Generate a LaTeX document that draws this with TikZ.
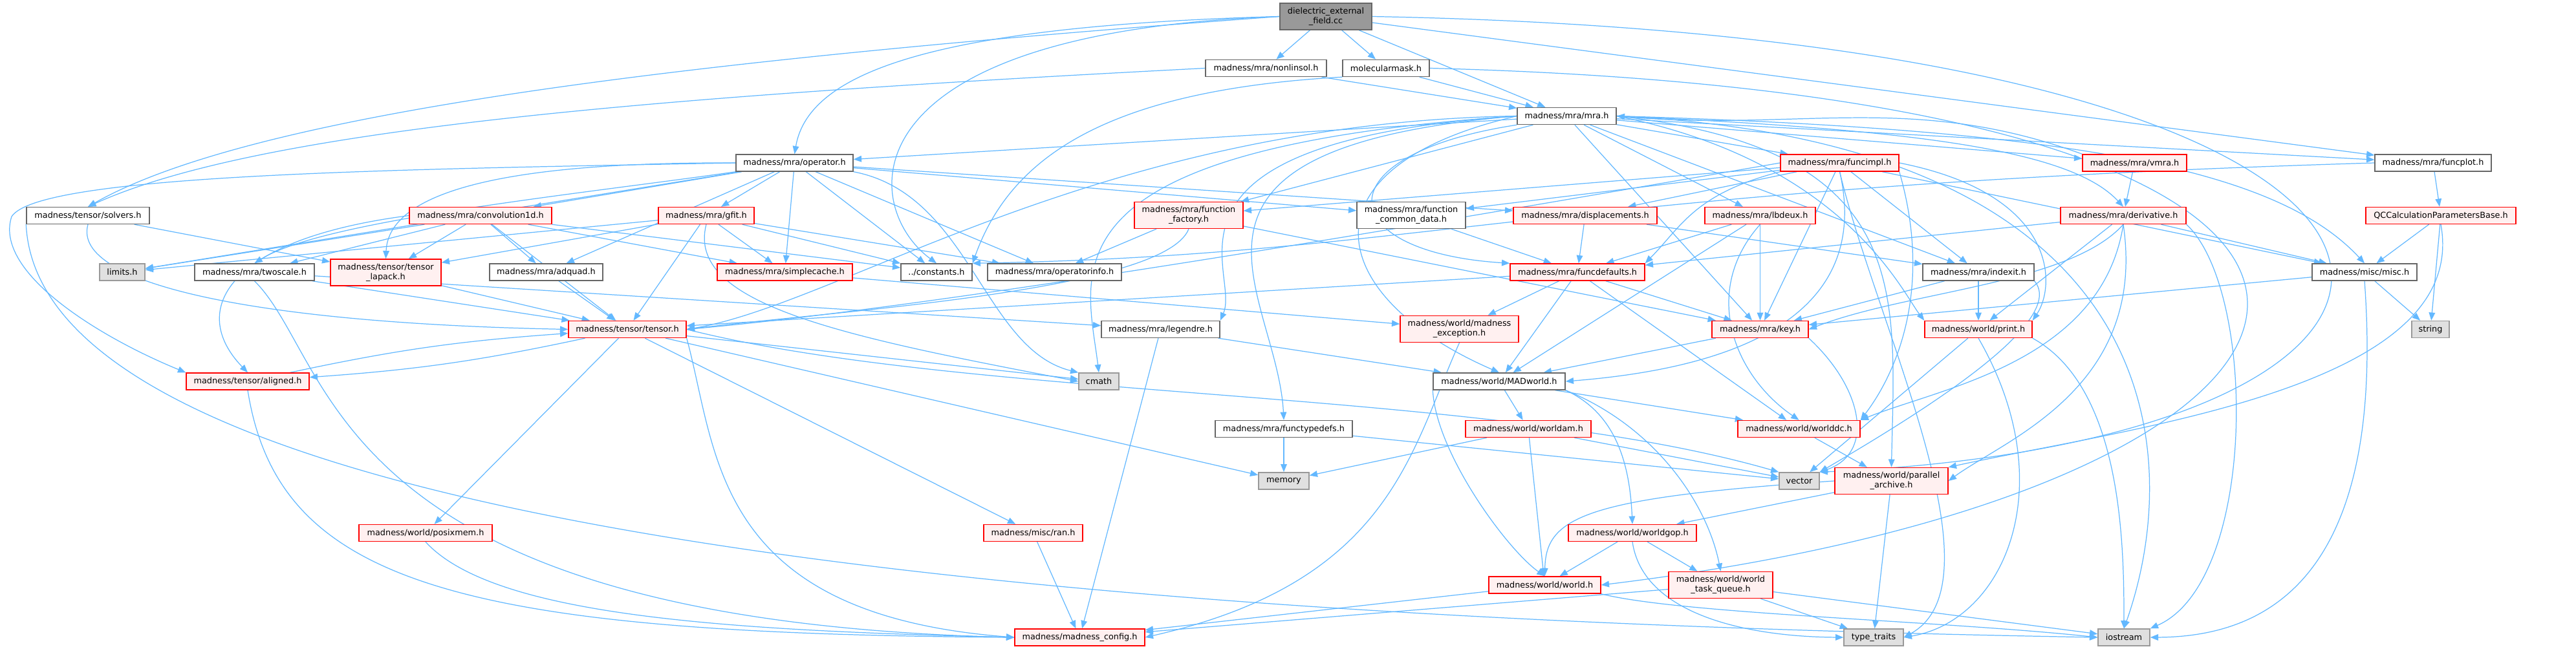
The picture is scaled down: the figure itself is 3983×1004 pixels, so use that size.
\documentclass[tikz,border=0pt]{standalone}
\usepackage{fontspec}
\usepackage{tikz}
\usetikzlibrary{arrows.meta,backgrounds}
\newfontfamily\dotfont{DejaVu Sans}
\definecolor{edgeblue}{HTML}{63B8FF}
\definecolor{redfill}{HTML}{FFF0F0}
\definecolor{sysfill}{HTML}{E0E0E0}
\definecolor{sysline}{HTML}{999999}
\definecolor{rootfill}{HTML}{999999}
\definecolor{boxline}{HTML}{666666}
\tikzset{
  file/.style={draw=boxline, fill=white, line width=0.8pt, inner sep=0pt,
    minimum height=26*0.02cm, align=center,
    font={\dotfont\fontsize{7.3}{8.6}\selectfont}},
  redfile/.style={file, draw=red, fill=redfill},
  sysfile/.style={file, draw=sysline, fill=sysfill},
  rootfile/.style={file, draw=boxline, fill=rootfill},
  twoline/.style={minimum height=41*0.02cm},
  dep/.style={draw=edgeblue, line width=0.7pt, -{Triangle[length=7pt,width=5.5pt]}}
}

\begin{document}
\begin{tikzpicture}[x=0.02cm, y=0.02cm]
    \useasboundingbox (0,0) rectangle (3983,-1004);

    % Files, row by row
    \node[rootfile, twoline, minimum width=142*0.02cm] (diel) at (2050,-25.5) {dielectric\_external\\\_field.cc};

    \node[file, minimum width=187*0.02cm] (nonlinsol) at (1957.5,-105.5) {madness/mra/nonlinsol.h};
    \node[file, minimum width=134*0.02cm] (molmask) at (2143,-105.5) {molecularmask.h};

    \node[file, minimum width=153*0.02cm] (mra) at (2422.5,-179.5) {madness/mra/mra.h};

    \node[file, minimum width=181*0.02cm] (operator) at (1228.5,-252) {madness/mra/operator.h};
    \node[redfile, minimum width=183*0.02cm] (funcimpl) at (2844.5,-252) {madness/mra/funcimpl.h};
    \node[redfile, minimum width=161*0.02cm] (vmra) at (3300.5,-252) {madness/mra/vmra.h};
    \node[file, minimum width=180*0.02cm] (funcplot) at (3762,-252) {madness/mra/funcplot.h};

    \node[file, minimum width=190*0.02cm] (solvers) at (136,-333.5) {madness/tensor/solvers.h};
    \node[redfile, minimum width=220*0.02cm] (conv) at (743,-333.5) {madness/mra/convolution1d.h};
    \node[redfile, minimum width=148*0.02cm] (gfit) at (1092,-333.5) {madness/mra/gfit.h};
    \node[redfile, twoline, minimum width=168*0.02cm] (funcfactory) at (1838,-333) {madness/mra/function\\\_factory.h};
    \node[file, twoline, minimum width=168*0.02cm] (fcd) at (2182,-333) {madness/mra/function\\\_common\_data.h};
    \node[redfile, minimum width=222*0.02cm] (displacements) at (2451,-333.5) {madness/mra/displacements.h};
    \node[redfile, minimum width=171*0.02cm] (lbdeux) at (2721.5,-333.5) {madness/mra/lbdeux.h};
    \node[redfile, minimum width=194*0.02cm] (derivative) at (3283,-333.5) {madness/mra/derivative.h};
    \node[redfile, minimum width=232*0.02cm] (qccalc) at (3774,-333.5) {QCCalculationParametersBase.h};

    \node[sysfile, minimum width=70*0.02cm] (limits) at (189,-421) {limits.h};
    \node[file, minimum width=185*0.02cm] (twoscale) at (393.5,-421) {madness/mra/twoscale.h};
    \node[redfile, twoline, minimum width=171*0.02cm] (tensorlapack) at (596.5,-421.5) {madness/tensor/tensor\\\_lapack.h};
    \node[file, minimum width=175*0.02cm] (adquad) at (844.5,-421) {madness/mra/adquad.h};
    \node[redfile, minimum width=209*0.02cm] (simplecache) at (1213.5,-421) {madness/mra/simplecache.h};
    \node[file, minimum width=110*0.02cm] (constants) at (1448,-421) {../constants.h};
    \node[file, minimum width=207*0.02cm] (opinfo) at (1630.5,-421) {madness/mra/operatorinfo.h};
    \node[redfile, minimum width=208*0.02cm] (funcdefaults) at (2439,-421) {madness/mra/funcdefaults.h};
    \node[file, minimum width=172*0.02cm] (indexit) at (3059,-421) {madness/mra/indexit.h};
    \node[file, minimum width=162*0.02cm] (misc) at (3656,-421) {madness/misc/misc.h};

    \node[redfile, minimum width=182*0.02cm] (tensor) at (970,-509.5) {madness/tensor/tensor.h};
    \node[file, minimum width=183*0.02cm] (legendre) at (1794.5,-509.5) {madness/mra/legendre.h};
    \node[redfile, twoline, minimum width=183*0.02cm] (mexception) at (2256.5,-509) {madness/world/madness\\\_exception.h};
    \node[redfile, minimum width=149*0.02cm] (key) at (2721.5,-509.5) {madness/mra/key.h};
    \node[redfile, minimum width=166*0.02cm] (print) at (3059,-509.5) {madness/world/print.h};
    \node[sysfile, minimum width=58*0.02cm] (string) at (3758,-509.5) {string};

    \node[redfile, minimum width=190*0.02cm] (aligned) at (383,-590) {madness/tensor/aligned.h};
    \node[sysfile, minimum width=62*0.02cm] (cmath) at (1699,-590) {cmath};
    \node[file, minimum width=204*0.02cm] (madworld) at (2318,-590) {madness/world/MADworld.h};

    \node[file, minimum width=212*0.02cm] (functypedefs) at (1985,-663.5) {madness/mra/functypedefs.h};
    \node[redfile, minimum width=194*0.02cm] (worldam) at (2363,-663.5) {madness/world/worldam.h};
    \node[redfile, minimum width=189*0.02cm] (worlddc) at (2781.5,-663.5) {madness/world/worlddc.h};

    \node[sysfile, minimum width=78*0.02cm] (memory) at (1985,-744) {memory};
    \node[sysfile, minimum width=62*0.02cm] (vector) at (2782,-744) {vector};
    \node[redfile, twoline, minimum width=175*0.02cm] (parchive) at (2924.5,-744) {madness/world/parallel\\\_archive.h};

    \node[redfile, minimum width=206*0.02cm] (posixmem) at (658,-824.5) {madness/world/posixmem.h};
    \node[redfile, minimum width=153*0.02cm] (ran) at (1597.5,-824.5) {madness/misc/ran.h};
    \node[redfile, minimum width=198*0.02cm] (worldgop) at (2524,-824.5) {madness/world/worldgop.h};

    \node[redfile, minimum width=173*0.02cm] (world) at (2388.5,-905) {madness/world/world.h};
    \node[redfile, twoline, minimum width=161*0.02cm] (taskqueue) at (2660.5,-905) {madness/world/world\\\_task\_queue.h};

    \node[redfile, minimum width=201*0.02cm] (config) at (1669.5,-986) {madness/madness\_config.h};
    \node[sysfile, minimum width=92*0.02cm] (typetraits) at (2897,-986) {type\_traits};
    \node[sysfile, minimum width=80*0.02cm] (iostream) at (3284,-986) {iostream};

    \begin{scope}[on background layer]
    % Includes of the example file
    \draw[dep] (diel) -- (nonlinsol);
    \draw[dep] (diel) -- (molmask);
    \draw[dep] (diel) -- (mra);
    \draw[dep] (diel.west) .. controls (1450,-40) and (1250,-110) .. (operator.north);
    \draw[dep] (diel.west) .. controls (1100,-90) and (400,-170) .. (solvers.north);
    \draw[dep] (diel.west) .. controls (1300,-50) and (1330,-320) .. (constants.north);
    \draw[dep] (diel) -- (funcplot);
    \draw[dep] (diel.east) .. controls (3975,-60) and (3950,-680) .. (vector.north east);

    \draw[dep] (nonlinsol) -- (mra);
    \draw[dep] (nonlinsol.west) .. controls (1000,-150) and (400,-200) .. (solvers.north);
    \draw[dep] (molmask) -- (mra);
    \draw[dep] (molmask.south west) .. controls (1700,-140) and (1560,-250) .. (constants.north east);
    \draw[dep] (molmask.east) .. controls (3950,-150) and (3750,-750) .. (world.east);

    % mra.h
    \draw[dep] (mra) -- (operator);
    \draw[dep] (mra) -- (funcimpl);
    \draw[dep] (mra) -- (vmra);
    \draw[dep] (mra) -- (funcplot);
    \draw[dep] (mra) -- (funcfactory);
    \draw[dep] (mra) -- (lbdeux);
    \draw[dep] (mra) -- (indexit);
    \draw[dep] (mra) -- (key);
    \draw[dep] (mra.east) .. controls (2950,-200) and (3200,-230) .. (derivative.north);
    \draw[dep] (mra.east) .. controls (3200,-200) and (3520,-260) .. (misc.north);
    \draw[dep] (mra.east) .. controls (2850,-250) and (2940,-450) .. (print.north west);
    \draw[dep] (mra.east) .. controls (2960,-230) and (2930,-450) .. (parchive.north);
    \draw[dep] (mra.east) .. controls (3350,-220) and (3380,-700) .. (iostream.north);
    \draw[dep] (mra.south west) .. controls (2040,-240) and (2060,-390) .. (funcdefaults.north west);
    \draw[dep] (mra.west) .. controls (2000,-260) and (2050,-460) .. (madworld.north);
    \draw[dep] (mra.west) .. controls (1750,-230) and (1975,-450) .. (functypedefs.north);
    \draw[dep] (mra.west) .. controls (1600,-230) and (1680,-420) .. (cmath.north);
    \draw[dep] (mra.west) .. controls (1750,-220) and (1920,-420) .. (legendre.north east);
    \draw[dep] (mra.west) .. controls (1700,-190) and (1300,-470) .. (tensor.east);

    % operator.h
    \draw[dep] (operator) -- (gfit);
    \draw[dep] (operator) -- (simplecache);
    \draw[dep] (operator) -- (constants);
    \draw[dep] (operator) -- (opinfo);
    \draw[dep] (operator) -- (conv);
    \draw[dep] (operator) -- (adquad);
    \draw[dep] (operator) -- (limits);
    \draw[dep] (operator) -- (displacements);
    \draw[dep] (operator) -- (fcd);
    \draw[dep] (operator.south west) .. controls (900,-300) and (500,-340) .. (twoscale.north);
    \draw[dep] (operator.west) .. controls (700,-250) and (600,-320) .. (tensorlapack.north);
    \draw[dep] (operator.west) .. controls (600,-262) and (60,-270) .. (18,-335)
        .. controls (-10,-420) and (150,-520) .. (aligned.north west);
    \draw[dep] (operator.south east) .. controls (1500,-300) and (1520,-540) .. (cmath.north west);

    % funcimpl.h
    \draw[dep] (funcimpl) -- (fcd);
    \draw[dep] (funcimpl) -- (displacements);
    \draw[dep] (funcimpl) -- (funcfactory);
    \draw[dep] (funcimpl) -- (key);
    \draw[dep] (funcimpl) -- (indexit);
    \draw[dep] (funcimpl) -- (misc);
    \draw[dep] (funcimpl.south west) .. controls (2620,-300) and (2600,-350) .. (funcdefaults.north east);
    \draw[dep] (funcimpl.east) .. controls (3180,-300) and (3180,-440) .. (print.north east);
    \draw[dep] (funcimpl.south) .. controls (2880,-420) and (2800,-560) .. (madworld.east);
    \draw[dep] (funcimpl.south) .. controls (2900,-500) and (3100,-900) .. (typetraits.east);
    \draw[dep] (funcimpl.south east) .. controls (2990,-450) and (2930,-580) .. (worlddc.north east);
    \draw[dep] (funcimpl.west) .. controls (2300,-330) and (1500,-470) .. (tensor.east);

    \draw[dep] (vmra) -- (derivative);
    \draw[dep] (vmra.north west) to[out=160,in=-5] (mra.east);
    \draw[dep] (funcplot) -- (qccalc);
    \draw[dep] (funcplot.west) .. controls (2400,-290) and (2200,-395) .. (constants.north east);

    % third row
    \draw[dep] (solvers) -- (tensorlapack);
    \draw[dep] (solvers.south) .. controls (110,-440) and (400,-500) .. (tensor.west);
    \draw[dep] (solvers.south west) .. controls (60,-750) and (1200,-950) .. (iostream.west);

    \draw[dep] (conv) -- (limits);
    \draw[dep] (conv) -- (twoscale);
    \draw[dep] (conv) -- (tensorlapack);
    \draw[dep] (conv) -- (adquad);
    \draw[dep] (conv) -- (tensor);
    \draw[dep] (conv) -- (constants);
    \draw[dep] (conv) -- (simplecache);
    \draw[dep] (conv.west) .. controls (350,-370) and (290,-480) .. (aligned.north);

    \draw[dep] (gfit) -- (limits);
    \draw[dep] (gfit) -- (tensorlapack);
    \draw[dep] (gfit) -- (simplecache);
    \draw[dep] (gfit) -- (constants);
    \draw[dep] (gfit) -- (opinfo);
    \draw[dep] (gfit) -- (tensor);
    \draw[dep] (gfit.south) .. controls (1060,-470) and (1300,-520) .. (cmath.west);

    \draw[dep] (funcfactory) -- (opinfo);
    \draw[dep] (funcfactory) -- (key);
    \draw[dep] (funcfactory.south) .. controls (1800,-450) and (1300,-480) .. (tensor.east);
    \draw[dep] (fcd) -- (funcdefaults);
    \draw[dep] (displacements) -- (funcdefaults);
    \draw[dep] (displacements) -- (indexit);
    \draw[dep] (lbdeux) -- (funcdefaults);
    \draw[dep] (lbdeux) -- (key);
    \draw[dep] (lbdeux) -- (madworld);
    \draw[dep] (lbdeux.south) .. controls (2630,-450) and (2680,-580) .. (worlddc.north);

    \draw[dep] (derivative) -- (funcdefaults);
    \draw[dep] (derivative) -- (misc);
    \draw[dep] (derivative) -- (print);
    \draw[dep] (derivative.south) .. controls (3200,-440) and (2950,-450) .. (key.east);
    \draw[dep] (derivative.south) .. controls (3250,-560) and (3000,-600) .. (worlddc.north east);
    \draw[dep] (derivative.south) .. controls (3320,-600) and (3100,-680) .. (parchive.east);
    \draw[dep] (derivative.south east) .. controls (3490,-450) and (3490,-900) .. (iostream.north east);

    \draw[dep] (qccalc) -- (misc);
    \draw[dep] (qccalc) -- (string);
    \draw[dep] (qccalc.south) .. controls (3820,-600) and (3300,-660) .. (parchive.north east);

    % fourth row
    \draw[dep] (twoscale) -- (tensor);
    \draw[dep] (twoscale) -- (legendre);
    \draw[dep] (twoscale.south) .. controls (520,-560) and (500,-960) .. (config.west);
    \draw[dep] (tensorlapack) -- (tensor);
    \draw[dep] (adquad) -- (tensor);
    \draw[dep] (simplecache) -- (mexception);

    \draw[dep] (funcdefaults) -- (key);
    \draw[dep] (funcdefaults) -- (madworld);
    \draw[dep] (funcdefaults) -- (tensor);
    \draw[dep] (funcdefaults) -- (worlddc);
    \draw[dep] (funcdefaults) -- (mexception);
    \draw[dep] (indexit) -- (print);
    \draw[dep] (indexit) -- (key);
    \draw[dep] (indexit.south east) .. controls (3200,-500) and (2950,-650) .. (vector.north east);
    \draw[dep] (misc) -- (string);
    \draw[dep] (misc) -- (key);
    \draw[dep] (misc.south) .. controls (3690,-900) and (3500,-985) .. (iostream.east);

    % tensor.h and below
    \draw[dep] (tensor) to[bend left=4] (aligned);
    \draw[dep] (aligned) to[bend left=4] (tensor);
    \draw[dep] (tensor) -- (cmath);
    \draw[dep] (tensor) -- (memory);
    \draw[dep] (tensor) -- (ran);
    \draw[dep] (tensor) -- (posixmem);
    \draw[dep] (tensor.east) .. controls (1500,-620) and (2300,-600) .. (vector.north west);
    \draw[dep] (tensor.south east) .. controls (1110,-700) and (1100,-950) .. (config.west);
    \draw[dep] (aligned.south) .. controls (430,-900) and (700,-980) .. (config.west);

    \draw[dep] (legendre) -- (config);
    \draw[dep] (legendre) -- (madworld);
    \draw[dep] (mexception.south) .. controls (2180,-700) and (2150,-900) .. (config.east);
    \draw[dep] (key) -- (madworld);
    \draw[dep] (key.south east) .. controls (2880,-600) and (2900,-700) .. (vector.north east);
    \draw[dep] (print) -- (vector);
    \draw[dep] (print.south east) .. controls (3283,-600) and (3284,-850) .. (iostream.north);
    \draw[dep] (print.south) .. controls (3190,-750) and (3100,-960) .. (typetraits.east);

    \draw[dep] (madworld) -- (worldam);
    \draw[dep] (madworld) -- (worlddc);
    \draw[dep] (madworld.south west) .. controls (2220,-700) and (2330,-850) .. (world.north);
    \draw[dep] (madworld.south east) .. controls (2500,-640) and (2520,-720) .. (worldgop.north);
    \draw[dep] (madworld.south east) .. controls (2560,-660) and (2640,-780) .. (taskqueue.north);

    \draw[dep] (functypedefs) -- (memory);
    \draw[dep] (functypedefs) -- (vector);
    \draw[dep] (worldam) -- (memory);
    \draw[dep] (worldam) -- (world);
    \draw[dep] (worldam) -- (vector);
    \draw[dep] (worlddc) -- (parchive);
    \draw[dep] (parchive) -- (worldgop);
    \draw[dep] (parchive) -- (typetraits);
    \draw[dep] (parchive.west) .. controls (2450,-770) and (2390,-800) .. (world.north);

    \draw[dep] (posixmem.south) .. controls (760,-950) and (1100,-975) .. (config.west);
    \draw[dep] (ran) -- (config);
    \draw[dep] (worldgop) -- (world);
    \draw[dep] (worldgop) -- (taskqueue);
    \draw[dep] (worldgop.south) .. controls (2540,-950) and (2700,-985) .. (typetraits.west);
    \draw[dep] (world) -- (config);
    \draw[dep] (world.south east) .. controls (2600,-950) and (3000,-960) .. (iostream.west);
    \draw[dep] (taskqueue) -- (config);
    \draw[dep] (taskqueue) -- (iostream);
    \draw[dep] (taskqueue) -- (typetraits);
    \end{scope}
\end{tikzpicture}
\end{document}
